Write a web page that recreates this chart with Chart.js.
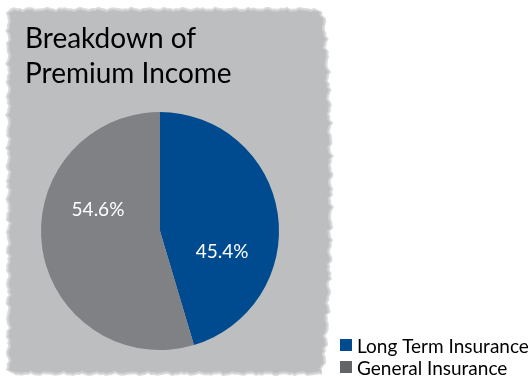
<!DOCTYPE html>
<html lang="en">
<head>
  <meta charset="UTF-8">
  <title>Breakdown of Premium Income</title>
  <script src="https://cdn.jsdelivr.net/npm/chart.js"></script>
  <style>
    body {
      margin: 0;
      background: #ffffff;
    }
    #wrap {
      position: relative;
      width: 532px;
      height: 381px;
    }
  </style>
</head>
<body>
  <div id="wrap">
    <canvas id="pieChart" width="532" height="381"></canvas>
  </div>

  <script>
    // chart data
    const titleLines = ['Breakdown of', 'Premium Income'];
    const categories = ['Long Term Insurance', 'General Insurance'];
    const shares = [45.4, 54.6];
    const sliceColors = ['#004a8f', '#808185'];
    const legendColors = ['#004a8f', '#636466'];

    const FONT = 'Lato, "Open Sans", sans-serif';

    // wobbly edge offset, a mix of sines so it looks brushed rather than scalloped
    function wob(t, amp) {
      return amp * (0.5 * Math.sin(t * 0.37) + 0.3 * Math.sin(t * 1.13 + 1) + 0.2 * Math.sin(t * 2.7 + 2));
    }

    function cardPath(ctx, grow) {
      ctx.beginPath();
      ctx.moveTo(14 - grow, 11 - grow);
      for (let x = 14; x <= 316; x += 3) {
        ctx.lineTo(x, 11 - grow + wob(x, 1.6));
      }
      for (let y = 12; y <= 370; y += 3) {
        // right side bulges out a little in the middle
        const edge = 320 + 9 * Math.pow(Math.sin(Math.PI * (y - 12) / 358), 0.6);
        ctx.lineTo(edge + grow + wob(y, 2.5), y);
      }
      for (let x = 322; x >= 14; x -= 3) {
        ctx.lineTo(x, 372 + grow + wob(x, 1.6));
      }
      for (let y = 370; y >= 12; y -= 3) {
        ctx.lineTo(10 - grow + wob(y, 2.2), y);
      }
      ctx.closePath();
    }

    // rough painted grey card behind the title and pie
    const backdrop = {
      id: 'backdrop',
      beforeDraw(chart) {
        const ctx = chart.ctx;
        ctx.save();
        ctx.fillStyle = '#dcdddf';
        cardPath(ctx, 3);
        ctx.fill();
        ctx.fillStyle = '#cdced0';
        cardPath(ctx, 1.5);
        ctx.fill();
        ctx.fillStyle = '#bdbec0';
        cardPath(ctx, 0);
        ctx.fill();

        // title
        ctx.fillStyle = '#000000';
        ctx.font = '28px ' + FONT;
        ctx.textBaseline = 'alphabetic';
        ctx.textAlign = 'left';
        ctx.fillText(titleLines[0], 25, 48);
        ctx.fillText(titleLines[1], 25, 83);
        ctx.restore();
      }
    };

    // percentage labels inside each slice
    const sliceLabels = {
      id: 'sliceLabels',
      afterDatasetsDraw(chart) {
        const ctx = chart.ctx;
        const arcs = chart.getDatasetMeta(0).data;
        ctx.save();
        ctx.fillStyle = '#ffffff';
        ctx.font = '19px ' + FONT;
        ctx.textAlign = 'center';
        ctx.textBaseline = 'middle';
        arcs.forEach((arc, i) => {
          const p = arc.getProps(['x', 'y', 'startAngle', 'endAngle', 'outerRadius'], true);
          const a = (p.startAngle + p.endAngle) / 2 + 0.47;
          const r = p.outerRadius * 0.55;
          ctx.fillText(shares[i].toFixed(1) + '%', p.x + r * Math.cos(a), p.y + r * Math.sin(a));
        });
        ctx.restore();
      }
    };

    // legend in the bottom right corner
    const cornerLegend = {
      id: 'cornerLegend',
      afterDraw(chart) {
        const ctx = chart.ctx;
        ctx.save();
        ctx.font = '19px ' + FONT;
        ctx.textAlign = 'left';
        ctx.textBaseline = 'alphabetic';
        categories.forEach((name, i) => {
          const y = 353 + i * 22;
          ctx.fillStyle = legendColors[i];
          ctx.fillRect(340, y - 14, 12, 12);
          ctx.fillStyle = '#000000';
          ctx.fillText(name, 357, y);
        });
        ctx.restore();
      }
    };

    new Chart(document.getElementById('pieChart'), {
      type: 'pie',
      data: {
        labels: categories,
        datasets: [{
          data: shares,
          backgroundColor: sliceColors,
          borderWidth: 0
        }]
      },
      options: {
        responsive: false,
        animation: false,
        layout: {
          padding: { left: 41, right: 253, top: 112, bottom: 31 }
        },
        plugins: {
          legend: { display: false },
          tooltip: { enabled: false }
        }
      },
      plugins: [backdrop, sliceLabels, cornerLegend]
    });
  </script>
</body>
</html>
